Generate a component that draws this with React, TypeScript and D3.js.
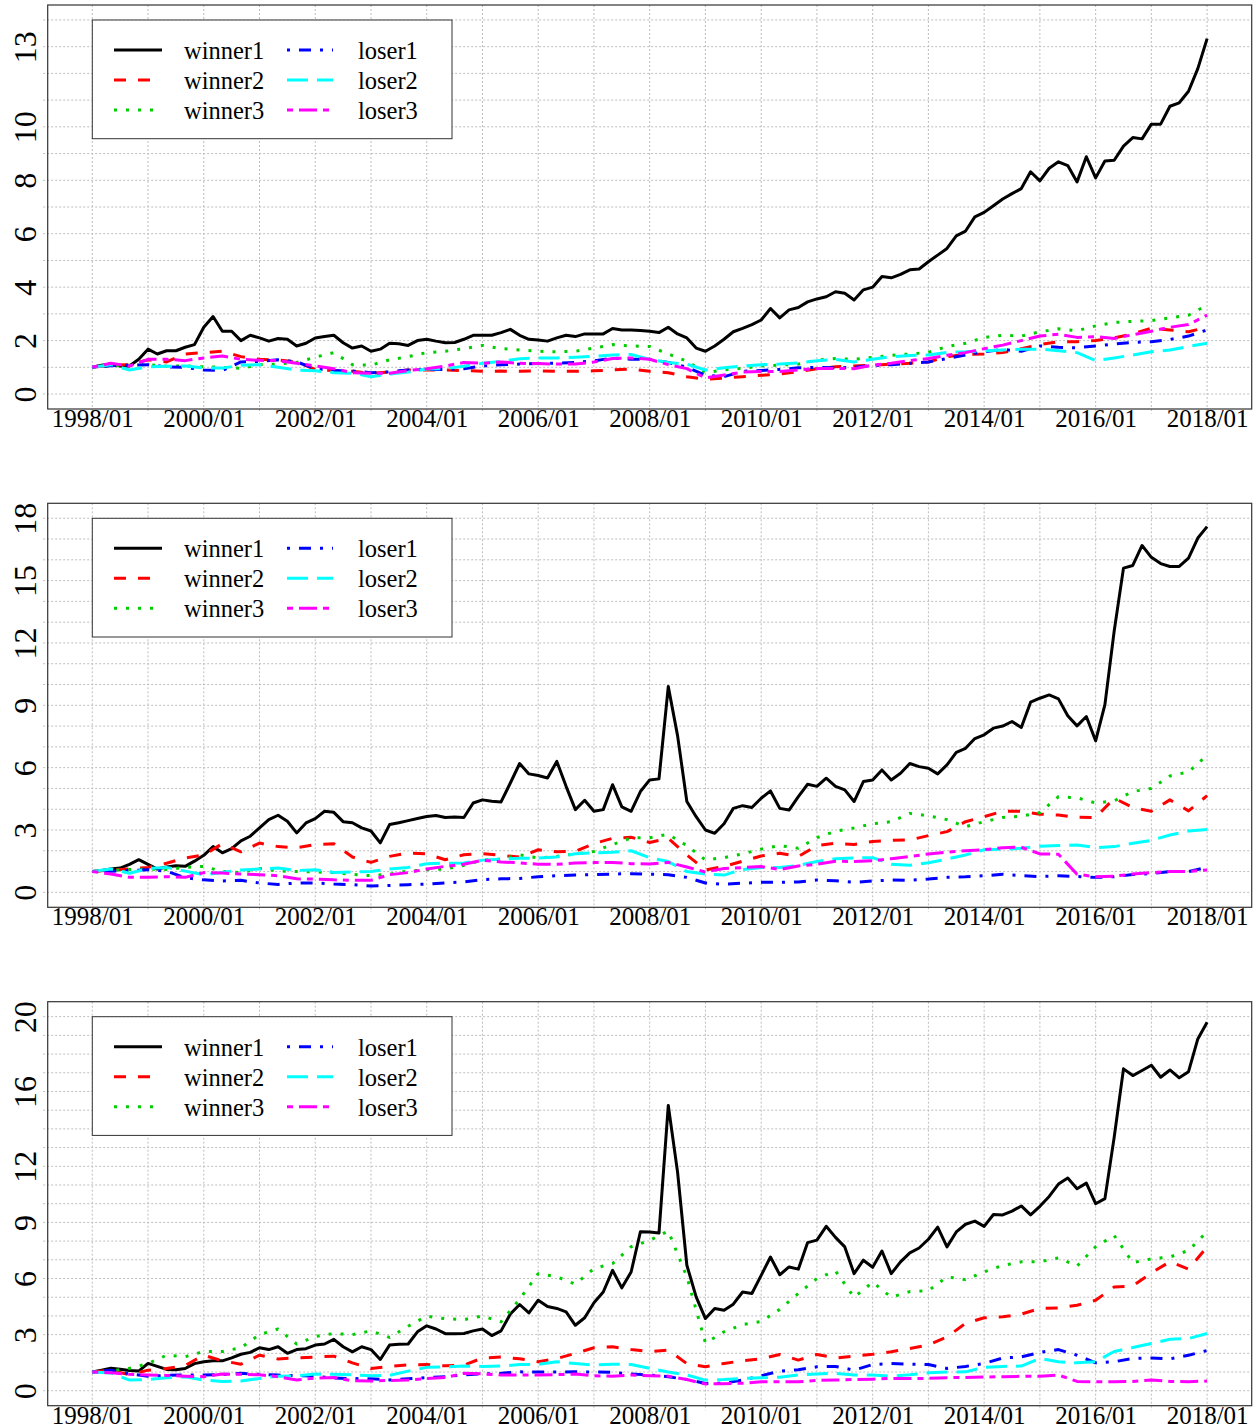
import React, { useRef, useEffect } from "react";
import * as d3 from "d3";

// x is months since 1998/01; winner1 read every 2 months, the others every 4
const winner1Step = 2;
const otherStep = 4;

const seriesNames = ["winner1", "winner2", "winner3", "loser1", "loser2", "loser3"];
const seriesColors = ["#000000", "#FF0000", "#00CD00", "#0000FF", "#00FFFF", "#FF00FF"];
const seriesDash = ["", "12,12", "3,9", "3,9,12,9", "21,9", "6,6,18,6"];

const xTickMonths = [0, 24, 48, 72, 96, 120, 144, 168, 192, 216, 240];
const xTickLabels = ["1998/01", "2000/01", "2002/01", "2004/01", "2006/01", "2008/01",
  "2010/01", "2012/01", "2014/01", "2016/01", "2018/01"];

const p1YLabels = [0, 2, 4, 6, 8, 10, 13];
const p2YLabels = [0, 3, 6, 9, 12, 15, 18];
const p3YLabels = [0, 3, 6, 9, 12, 16, 20];
const yMaxes = [14, 18, 20];

// ---- panel 1 ----
const p1Winner1 = [
  1.00, 1.08, 1.12, 1.05, 1.05, 1.30, 1.68, 1.50, 1.62, 1.62,
  1.75, 1.85, 2.50, 2.90, 2.35, 2.35, 2.00, 2.20, 2.10, 1.98,
  2.08, 2.05, 1.80, 1.90, 2.10, 2.15, 2.20, 1.92, 1.72, 1.80,
  1.60, 1.68, 1.90, 1.88, 1.82, 2.00, 2.05, 1.98, 1.92, 1.93,
  2.05, 2.20, 2.20, 2.20, 2.30, 2.42, 2.20, 2.05, 2.02, 1.98,
  2.10, 2.20, 2.15, 2.25, 2.25, 2.25, 2.45, 2.40, 2.40, 2.38,
  2.35, 2.30, 2.50, 2.25, 2.10, 1.72, 1.60, 1.80, 2.05, 2.33,
  2.46, 2.60, 2.77, 3.20, 2.85, 3.15, 3.24, 3.45, 3.56, 3.64,
  3.83, 3.77, 3.52, 3.90, 4.00, 4.40, 4.35, 4.48, 4.65, 4.68,
  4.95, 5.20, 5.45, 5.92, 6.10, 6.63, 6.80, 7.05, 7.30, 7.50,
  7.69, 8.32, 7.98, 8.45, 8.69, 8.55, 7.94, 8.88, 8.09, 8.72,
  8.75, 9.28, 9.60, 9.55, 10.10, 10.10, 10.77, 10.90, 11.33, 12.18,
  13.30,
];
const p1Winner2 = [
  1.00, 1.08, 1.10, 1.28, 1.20, 1.50, 1.55, 1.60, 1.40, 1.30,
  1.27, 1.20, 0.92, 0.88, 0.85, 0.78, 0.82, 0.90, 0.90, 0.90,
  0.88, 0.85, 0.86, 0.85, 0.87, 0.85, 0.85, 0.87, 0.90, 0.94,
  0.85, 0.80, 0.65, 0.55, 0.60, 0.65, 0.70, 0.75, 0.84, 0.95,
  1.02, 1.05, 1.08, 1.12, 1.15, 1.20, 1.40, 1.48, 1.50, 1.55,
  1.70, 1.85, 1.96, 1.96, 2.00, 2.10, 2.25, 2.46, 2.40, 2.33,
  2.50,
];
const p1Winner3 = [
  1.00, 1.05, 1.08, 1.10, 1.04, 1.05, 1.02, 1.00, 0.96, 1.10,
  1.12, 1.18, 1.38, 1.55, 1.10, 1.08, 1.28, 1.40, 1.55, 1.60,
  1.70, 1.82, 1.70, 1.65, 1.60, 1.58, 1.60, 1.72, 1.85, 1.80,
  1.78, 1.50, 1.23, 0.80, 0.90, 0.96, 1.05, 1.08, 1.12, 1.27,
  1.33, 1.30, 1.37, 1.45, 1.50, 1.56, 1.78, 1.90, 2.12, 2.20,
  2.17, 2.33, 2.44, 2.37, 2.55, 2.68, 2.72, 2.75, 2.85, 2.95,
  3.33,
];
const p1Loser1 = [
  1.00, 1.06, 1.08, 1.10, 1.02, 1.00, 0.90, 0.88, 1.20, 1.22,
  1.28, 1.20, 0.95, 0.88, 0.86, 0.80, 0.83, 0.90, 0.92, 0.92,
  0.95, 1.05, 1.10, 1.12, 1.14, 1.16, 1.18, 1.24, 1.35, 1.30,
  1.30, 1.18, 1.00, 0.70, 0.65, 0.85, 0.88, 0.92, 0.98, 1.00,
  0.98, 1.00, 1.07, 1.10, 1.15, 1.20, 1.33, 1.46, 1.58, 1.67,
  1.60, 1.80, 1.75, 1.73, 1.80, 1.87, 1.93, 1.96, 2.04, 2.17,
  2.40,
];
const p1Loser2 = [
  1.00, 1.10, 0.90, 1.02, 1.04, 1.05, 0.98, 0.97, 1.08, 1.10,
  1.00, 0.90, 0.87, 0.80, 0.78, 0.65, 0.75, 0.82, 0.94, 0.95,
  1.04, 1.15, 1.22, 1.32, 1.35, 1.35, 1.38, 1.41, 1.46, 1.48,
  1.30, 1.18, 1.12, 0.90, 0.98, 1.05, 1.10, 1.12, 1.16, 1.25,
  1.30, 1.20, 1.30, 1.40, 1.44, 1.46, 1.56, 1.58, 1.62, 1.65,
  1.68, 1.68, 1.62, 1.55, 1.25, 1.35, 1.46, 1.58, 1.65, 1.78,
  1.90,
];
const p1Loser3 = [
  1.00, 1.15, 1.05, 1.30, 1.30, 1.25, 1.35, 1.42, 1.30, 1.26,
  1.25, 1.15, 1.05, 0.95, 0.80, 0.78, 0.78, 0.88, 0.95, 1.05,
  1.18, 1.15, 1.20, 1.15, 1.14, 1.12, 1.12, 1.20, 1.33, 1.35,
  1.30, 1.10, 0.95, 0.60, 0.71, 0.82, 0.84, 0.84, 0.90, 0.96,
  0.96, 0.95, 1.08, 1.15, 1.25, 1.33, 1.45, 1.55, 1.70, 1.83,
  2.00, 2.17, 2.24, 2.12, 2.15, 2.08, 2.22, 2.35, 2.50, 2.60,
  2.95,
];

// ---- panel 2 ----
const p2Winner1 = [
  1.00, 1.05, 1.12, 1.17, 1.35, 1.57, 1.35, 1.12, 1.22, 1.28,
  1.25, 1.50, 1.78, 2.20, 1.90, 2.10, 2.48, 2.70, 3.10, 3.50,
  3.71, 3.42, 2.86, 3.34, 3.55, 3.90, 3.85, 3.40, 3.35, 3.10,
  2.95, 2.38, 3.26, 3.35, 3.45, 3.55, 3.65, 3.70, 3.60, 3.62,
  3.60, 4.30, 4.45, 4.38, 4.35, 5.26, 6.20, 5.70, 5.62, 5.50,
  6.30, 5.10, 3.98, 4.43, 3.90, 3.98, 5.18, 4.11, 3.90, 4.85,
  5.41, 5.46, 9.90, 7.54, 4.37, 3.64, 3.00, 2.84, 3.30, 4.04,
  4.17, 4.08, 4.53, 4.88, 4.04, 3.96, 4.61, 5.20, 5.10, 5.49,
  5.10, 4.93, 4.37, 5.33, 5.41, 5.89, 5.41, 5.73, 6.20, 6.05,
  5.97, 5.70, 6.13, 6.74, 6.93, 7.40, 7.58, 7.90, 8.00, 8.22,
  7.93, 9.15, 9.34, 9.50, 9.31, 8.50, 8.01, 8.46, 7.29, 9.03,
  12.58, 15.60, 15.73, 16.69, 16.12, 15.82, 15.68, 15.68, 16.08, 17.05,
  17.60,
];
const p2Winner2 = [
  1.00, 1.08, 1.12, 1.20, 1.40, 1.65, 1.80, 2.34, 1.95, 2.37,
  2.20, 2.15, 2.30, 2.34, 1.70, 1.44, 1.73, 1.89, 1.85, 1.57,
  1.81, 1.86, 1.78, 1.70, 2.05, 1.95, 1.97, 2.35, 2.60, 2.65,
  2.40, 2.60, 1.80, 1.08, 1.24, 1.50, 1.75, 1.88, 1.72, 2.25,
  2.36, 2.30, 2.45, 2.50, 2.52, 2.73, 2.92, 3.40, 3.64, 3.90,
  3.90, 3.76, 3.72, 3.61, 3.60, 4.53, 4.08, 3.90, 4.45, 3.92,
  4.65,
];
const p2Winner3 = [
  1.00, 1.05, 1.10, 1.12, 1.10, 1.20, 1.25, 1.00, 0.95, 1.15,
  1.03, 1.00, 0.98, 0.95, 0.86, 0.80, 0.88, 1.02, 1.09, 1.12,
  1.30, 1.55, 1.60, 1.80, 1.65, 1.73, 1.85, 1.97, 2.30, 2.62,
  2.63, 2.79, 2.25, 1.56, 1.67, 1.85, 2.08, 2.25, 2.12, 2.63,
  2.94, 3.10, 3.30, 3.40, 3.80, 3.68, 3.50, 3.16, 3.40, 3.60,
  3.66, 3.84, 4.60, 4.55, 4.30, 4.40, 4.85, 5.00, 5.60, 5.80,
  6.60,
];
const p2Loser1 = [
  1.00, 1.02, 1.05, 1.09, 1.02, 0.70, 0.60, 0.55, 0.58, 0.45,
  0.38, 0.45, 0.45, 0.40, 0.37, 0.30, 0.33, 0.37, 0.40, 0.45,
  0.50, 0.61, 0.65, 0.67, 0.75, 0.80, 0.83, 0.85, 0.88, 0.90,
  0.87, 0.85, 0.72, 0.45, 0.39, 0.44, 0.48, 0.48, 0.50, 0.59,
  0.56, 0.48, 0.55, 0.59, 0.58, 0.64, 0.72, 0.75, 0.80, 0.87,
  0.80, 0.76, 0.80, 0.76, 0.72, 0.75, 0.86, 0.90, 1.00, 1.00,
  1.20,
];
const p2Loser2 = [
  1.00, 1.12, 0.92, 1.15, 1.20, 1.02, 0.85, 0.95, 1.08, 1.12,
  1.17, 1.05, 1.09, 0.96, 0.98, 1.00, 1.12, 1.20, 1.38, 1.40,
  1.41, 1.55, 1.60, 1.64, 1.65, 1.70, 1.86, 1.90, 1.93, 2.00,
  1.67, 1.48, 1.00, 0.88, 0.83, 1.10, 1.19, 1.19, 1.30, 1.48,
  1.62, 1.65, 1.67, 1.35, 1.30, 1.42, 1.60, 1.80, 2.05, 2.07,
  2.12, 2.22, 2.25, 2.28, 2.15, 2.20, 2.36, 2.50, 2.76, 2.95,
  3.02,
];
const p2Loser3 = [
  1.00, 0.88, 0.72, 0.72, 0.75, 0.72, 0.95, 0.93, 0.88, 0.85,
  0.80, 0.65, 0.64, 0.60, 0.58, 0.58, 0.85, 0.95, 1.12, 1.25,
  1.35, 1.54, 1.46, 1.42, 1.35, 1.35, 1.41, 1.43, 1.44, 1.38,
  1.36, 1.44, 1.22, 0.98, 1.15, 1.19, 1.24, 1.10, 1.27, 1.35,
  1.50, 1.48, 1.52, 1.62, 1.72, 1.85, 1.93, 2.00, 2.05, 2.15,
  2.17, 1.85, 1.83, 0.87, 0.75, 0.78, 0.88, 0.95, 1.00, 1.00,
  1.08,
];

// ---- panel 3 ----
const p3Winner1 = [
  1.00, 1.10, 1.20, 1.15, 1.08, 1.05, 1.46, 1.30, 1.14, 1.12,
  1.19, 1.45, 1.55, 1.60, 1.60, 1.76, 1.95, 2.05, 2.30, 2.20,
  2.35, 2.00, 2.20, 2.25, 2.44, 2.50, 2.75, 2.35, 2.08, 2.35,
  2.20, 1.67, 2.44, 2.49, 2.50, 3.15, 3.47, 3.30, 3.05, 3.05,
  3.06, 3.20, 3.30, 2.95, 3.20, 4.10, 4.61, 4.16, 4.84, 4.50,
  4.40, 4.22, 3.50, 3.90, 4.70, 5.28, 6.44, 5.50, 6.35, 8.50,
  8.49, 8.43, 15.25, 11.69, 6.71, 5.02, 3.86, 4.40, 4.30, 4.63,
  5.28, 5.20, 6.17, 7.15, 6.20, 6.62, 6.50, 7.92, 8.05, 8.79,
  8.20, 7.69, 6.26, 6.98, 6.60, 7.47, 6.26, 6.89, 7.37, 7.63,
  8.10, 8.75, 7.69, 8.49, 8.90, 9.07, 8.79, 9.42, 9.40, 9.60,
  9.88, 9.40, 9.86, 10.39, 11.05, 11.37, 10.80, 11.10, 10.00, 10.27,
  13.56, 17.21, 16.85, 17.12, 17.40, 16.76, 17.15, 16.73, 17.06, 18.81,
  19.70,
];
const p3Winner2 = [
  1.00, 1.10, 0.85, 1.10, 1.19, 1.35, 1.90, 1.60, 1.42, 1.90,
  1.70, 1.76, 1.80, 1.85, 1.49, 1.19, 1.30, 1.38, 1.40, 1.33,
  1.37, 1.75, 1.80, 1.71, 1.55, 1.72, 2.00, 2.30, 2.35, 2.20,
  2.10, 2.17, 1.45, 1.28, 1.46, 1.60, 1.70, 1.94, 1.64, 1.94,
  1.75, 1.85, 1.95, 2.08, 2.26, 2.45, 2.88, 3.60, 3.90, 3.95,
  4.10, 4.40, 4.43, 4.57, 4.84, 5.55, 5.60, 6.30, 6.90, 6.50,
  7.69,
];
const p3Winner3 = [
  1.00, 1.05, 1.20, 1.45, 1.90, 1.82, 2.10, 2.10, 2.30, 3.00,
  3.30, 2.50, 2.90, 3.06, 3.00, 3.20, 2.85, 3.45, 3.99, 3.85,
  3.80, 4.00, 3.68, 4.90, 6.26, 6.09, 5.70, 6.53, 6.80, 7.70,
  8.04, 8.54, 6.09, 2.55, 3.15, 3.54, 3.70, 4.35, 5.20, 6.00,
  6.40, 5.00, 5.80, 5.00, 5.30, 5.35, 6.09, 5.94, 6.35, 6.70,
  6.89, 6.90, 7.10, 6.67, 7.70, 8.30, 6.85, 7.05, 7.15, 7.50,
  8.50,
];
const p3Loser1 = [
  1.00, 1.10, 0.90, 0.78, 0.82, 0.84, 0.84, 0.87, 0.93, 0.88,
  0.84, 0.80, 0.78, 0.68, 0.65, 0.64, 0.58, 0.64, 0.70, 0.75,
  0.85, 0.90, 0.93, 1.01, 1.00, 1.00, 1.01, 1.00, 0.98, 0.90,
  0.84, 0.75, 0.60, 0.39, 0.40, 0.57, 0.80, 1.05, 1.12, 1.28,
  1.30, 1.10, 1.40, 1.46, 1.42, 1.40, 1.19, 1.30, 1.46, 1.75,
  1.81, 2.05, 2.20, 1.90, 1.49, 1.55, 1.73, 1.75, 1.70, 1.90,
  2.15,
];
const p3Loser2 = [
  1.00, 0.95, 0.57, 0.60, 0.70, 0.75, 0.57, 0.50, 0.52, 0.66,
  0.78, 0.80, 0.89, 0.88, 0.85, 0.80, 0.82, 1.05, 1.25, 1.28,
  1.32, 1.30, 1.32, 1.40, 1.41, 1.55, 1.45, 1.37, 1.42, 1.40,
  1.20, 1.00, 0.84, 0.57, 0.60, 0.66, 0.69, 0.72, 0.84, 0.90,
  0.93, 0.84, 0.84, 0.78, 0.85, 0.96, 1.00, 1.01, 1.25, 1.30,
  1.32, 1.73, 1.55, 1.49, 1.55, 2.10, 2.31, 2.53, 2.75, 2.79,
  3.06,
];
const p3Loser3 = [
  1.00, 0.96, 0.88, 0.84, 0.82, 0.78, 0.75, 0.89, 0.88, 0.85,
  0.75, 0.57, 0.68, 0.71, 0.53, 0.52, 0.55, 0.57, 0.65, 0.71,
  0.93, 0.90, 0.84, 0.84, 0.84, 0.86, 0.89, 0.80, 0.78, 0.84,
  0.80, 0.78, 0.60, 0.36, 0.38, 0.40, 0.48, 0.48, 0.48, 0.55,
  0.57, 0.60, 0.62, 0.66, 0.66, 0.66, 0.70, 0.71, 0.73, 0.75,
  0.77, 0.78, 0.84, 0.50, 0.48, 0.48, 0.50, 0.57, 0.50, 0.48,
  0.52,
];

const panelSeries = [
  [p1Winner1, p1Winner2, p1Winner3, p1Loser1, p1Loser2, p1Loser3],
  [p2Winner1, p2Winner2, p2Winner3, p2Loser1, p2Loser2, p2Loser3],
  [p3Winner1, p3Winner2, p3Winner3, p3Loser1, p3Loser2, p3Loser3],
];
const panelYLabels = [p1YLabels, p2YLabels, p3YLabels];

const FONT = "'Liberation Serif', 'Times New Roman', serif";

const App = () => {
  const svgRef = useRef<SVGSVGElement>(null);

  useEffect(() => {
    const svg = d3.select(svgRef.current);
    svg.selectAll("*").remove();

    const left = 47.7;
    const right = 1251.7;
    const boxH = 404;
    const tops = [5, 503.3, 1001.7];

    // R style 4% padding on both axes
    const x = d3.scaleLinear().domain([-9.6, 249.6]).range([left, right]);

    panelSeries.forEach((series, pi) => {
      const top = tops[pi];
      const bottom = top + boxH;
      const ymax = yMaxes[pi];
      const y = d3.scaleLinear()
        .domain([-0.04 * ymax, 1.04 * ymax])
        .range([bottom, top]);

      const g = svg.append("g");

      // grid (sticks out a little past the box on the axis sides)
      g.selectAll(".hgrid")
        .data(d3.range(0, ymax + 1))
        .enter()
        .append("line")
        .attr("x1", left - 4.5)
        .attr("x2", right)
        .attr("y1", (d) => y(d))
        .attr("y2", (d) => y(d))
        .attr("stroke", "#bdbdbd")
        .attr("stroke-width", 1)
        .attr("stroke-dasharray", "2,2");

      g.selectAll(".vgrid")
        .data(d3.range(0, 241, 12))
        .enter()
        .append("line")
        .attr("x1", (d) => x(d))
        .attr("x2", (d) => x(d))
        .attr("y1", top)
        .attr("y2", bottom + 4.5)
        .attr("stroke", "#bdbdbd")
        .attr("stroke-width", 1)
        .attr("stroke-dasharray", "2,2");

      // lines
      series.forEach((values, si) => {
        const step = si === 0 ? winner1Step : otherStep;
        const line = d3.line<number>()
          .x((_, i) => x(i * step))
          .y((d) => y(d));
        g.append("path")
          .datum(values)
          .attr("d", line)
          .attr("fill", "none")
          .attr("stroke", seriesColors[si])
          .attr("stroke-width", 3)
          .attr("stroke-linejoin", "round")
          .attr("stroke-linecap", "butt")
          .attr("stroke-dasharray", seriesDash[si] || null);
      });

      // legend
      const lg = g.append("g");
      lg.append("rect")
        .attr("x", 92.3)
        .attr("y", top + 15)
        .attr("width", 359.7)
        .attr("height", 118.7)
        .attr("fill", "#fff")
        .attr("stroke", "#333")
        .attr("stroke-width", 1);

      seriesNames.forEach((name, si) => {
        const col = Math.floor(si / 3);
        const row = si % 3;
        const ly = top + 45 + row * 30;
        const x1 = col === 0 ? 114 : 287;
        const x2 = col === 0 ? 162 : 333;
        const tx = col === 0 ? 184 : 358;
        lg.append("line")
          .attr("x1", x1)
          .attr("x2", x2)
          .attr("y1", ly)
          .attr("y2", ly)
          .attr("stroke", seriesColors[si])
          .attr("stroke-width", 3)
          .attr("stroke-linecap", "butt")
          .attr("stroke-dasharray", seriesDash[si] || null);
        lg.append("text")
          .attr("x", tx)
          .attr("y", ly + 9)
          .attr("font-family", FONT)
          .attr("font-size", 24.5)
          .attr("fill", "#000")
          .text(name);
      });

      // box
      g.append("rect")
        .attr("x", left)
        .attr("y", top)
        .attr("width", right - left)
        .attr("height", boxH)
        .attr("fill", "none")
        .attr("stroke", "#333")
        .attr("stroke-width", 1.2);

      // x axis labels
      const xAxis = g.append("g")
        .attr("transform", `translate(0,${bottom})`)
        .call(
          d3.axisBottom(x)
            .tickValues(xTickMonths)
            .tickSize(0)
            .tickFormat((_, i) => xTickLabels[i])
        );
      xAxis.select(".domain").remove();
      xAxis.selectAll("text")
        .attr("y", 18)
        .attr("dy", 0)
        .attr("font-family", FONT)
        .attr("font-size", 25)
        .attr("fill", "#000");

      // y axis labels, parallel to the axis
      const yAxis = g.append("g")
        .attr("transform", `translate(${left},0)`)
        .call(
          d3.axisLeft(y)
            .tickValues(panelYLabels[pi])
            .tickSize(0)
            .tickFormat(d3.format("d"))
        );
      yAxis.select(".domain").remove();
      yAxis.selectAll("text")
        .attr("transform", "rotate(-90)")
        .attr("x", 0)
        .attr("y", -11.7)
        .attr("dy", 0)
        .attr("text-anchor", "middle")
        .attr("font-family", FONT)
        .attr("font-size", 32)
        .attr("fill", "#000");
    });
  }, []);

  return (
    <svg
      ref={svgRef}
      width={1257}
      height={1428}
      style={{ position: "absolute", left: 0, top: 0, background: "#fff" }}
    />
  );
};

export default App;
